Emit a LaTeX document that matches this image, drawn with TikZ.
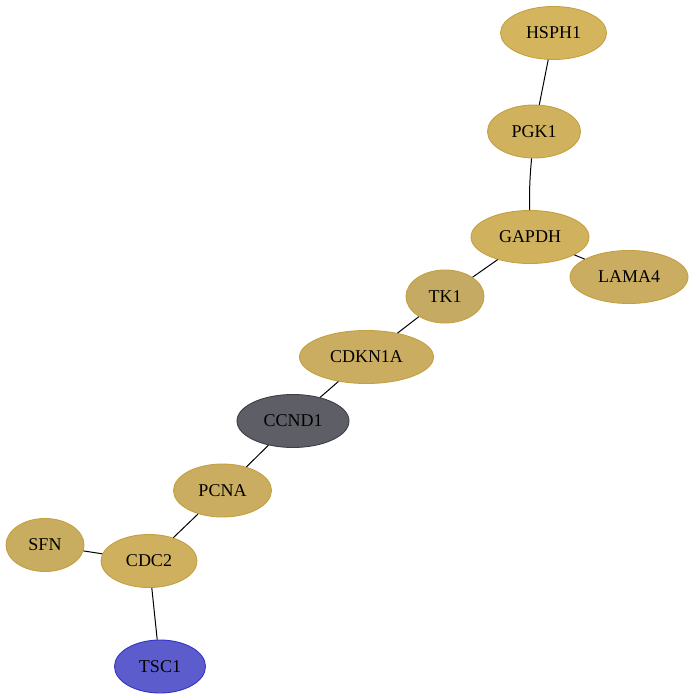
\documentclass[tikz,border=0pt]{standalone}
\usepackage{fontspec}
\setmainfont{Liberation Serif}
\usetikzlibrary{shapes.geometric}

\definecolor{goldfill}{HTML}{D0B15D}
\definecolor{goldlight}{HTML}{D4B55E}
\definecolor{goldline}{HTML}{C4A040}
\definecolor{darkfill}{HTML}{5E5E67}
\definecolor{darkline}{HTML}{3E3E46}
\definecolor{bluefill}{HTML}{5C5CCC}
\definecolor{blueline}{HTML}{3434C4}

\tikzset{
  gene/.style={ellipse, draw=goldline, fill=goldfill, line width=0.9pt,
    inner sep=0pt, font=\fontsize{18}{20}\selectfont},
  link/.style={line width=1pt, black},
}

\begin{document}
\begin{tikzpicture}[x=1pt, y=-1pt]
  \useasboundingbox (0,0) rectangle (695,700);

  % top chain
  \node[gene, minimum width=106pt, minimum height=53pt, fill=goldlight] (hsph1) at (553.5,33) {HSPH1};
  \node[gene, minimum width=93pt, minimum height=53pt] (pgk1) at (534,131.5) {PGK1};
  \node[gene, minimum width=118pt, minimum height=53pt] (gapdh) at (530,237) {GAPDH};
  \node[gene, minimum width=118pt, minimum height=53pt, fill=goldfill!92!gray] (lama4) at (629,277) {LAMA4};
  \node[gene, minimum width=78pt, minimum height=53pt, fill=goldfill!85!gray] (tk1) at (445,296.5) {TK1};
  \node[gene, minimum width=134pt, minimum height=53pt, fill=goldfill!92!gray] (cdkn1a) at (366.5,357) {CDKN1A};

  % hub
  \node[gene, minimum width=112pt, minimum height=53pt, fill=darkfill, draw=darkline] (ccnd1) at (293,421) {CCND1};

  % bottom chain
  \node[gene, minimum width=98pt, minimum height=53pt, fill=goldfill!92!gray] (pcna) at (222.5,490.5) {PCNA};
  \node[gene, minimum width=78pt, minimum height=53pt, fill=goldfill!90!gray] (sfn) at (45,545) {SFN};
  \node[gene, minimum width=96pt, minimum height=53pt, fill=goldfill!97!gray] (cdc2) at (149,561) {CDC2};
  \node[gene, minimum width=91pt, minimum height=53pt, fill=bluefill, draw=blueline] (tsc1) at (160,666.5) {TSC1};

  % edges
  \draw[link] (hsph1) -- (pgk1);
  \draw[link] (pgk1) to[bend right=3] (gapdh);
  \draw[link] (gapdh) -- (lama4);
  \draw[link] (gapdh) -- (tk1);
  \draw[link] (tk1) -- (cdkn1a);
  \draw[link] (cdkn1a) -- (ccnd1);
  \draw[link] (ccnd1) -- (pcna);
  \draw[link] (pcna) -- (cdc2);
  \draw[link] (sfn) -- (cdc2);
  \draw[link] (cdc2) -- (tsc1);
\end{tikzpicture}
\end{document}
